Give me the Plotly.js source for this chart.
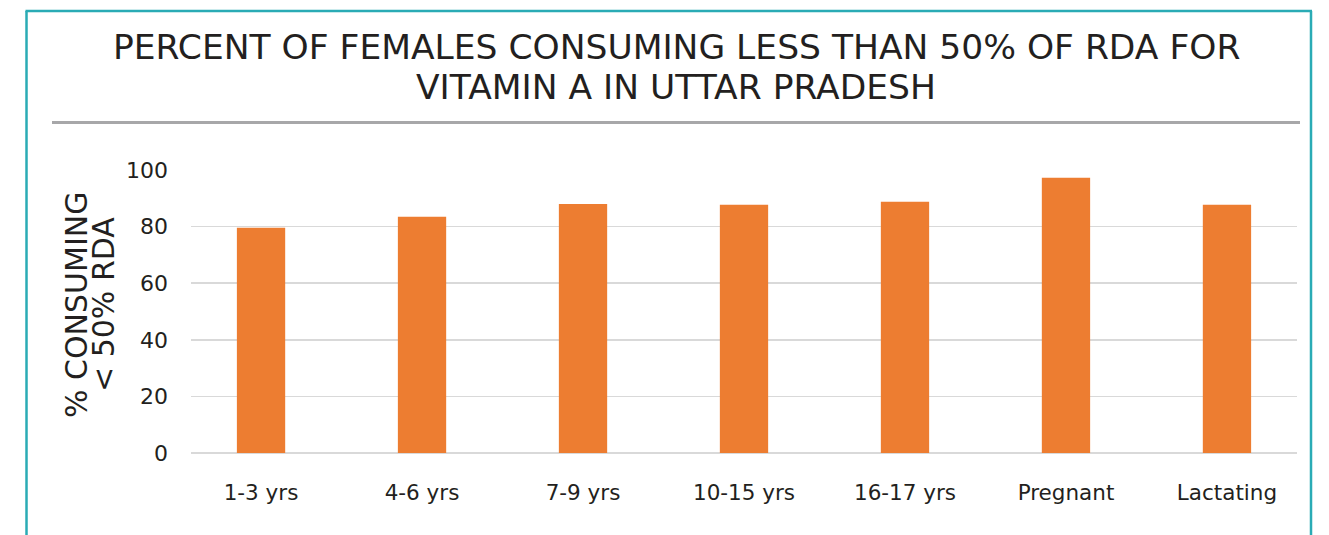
<!DOCTYPE html>
<html>
<head>
<meta charset="utf-8">
<script src="https://cdn.plot.ly/plotly-3.0.1.min.js"></script>
<style>html,body{margin:0;padding:0;background:#fff;}#chart{width:1329px;height:535px;}</style>
</head>
<body>
<div id="chart"></div>
<script>
const categories = ["1-3 yrs", "4-6 yrs", "7-9 yrs", "10-15 yrs", "16-17 yrs", "Pregnant", "Lactating"];
const percentBelow50RDA = [79.6, 83.5, 88.0, 87.7, 88.8, 97.3, 87.7];
const yTickValues = [0, 20, 40, 60, 80, 100];
const titleLines = ["PERCENT OF FEMALES CONSUMING LESS THAN 50% OF RDA FOR", "VITAMIN A IN UTTAR PRADESH"];
const yTitleLines = ["% CONSUMING", "&lt; 50% RDA"];

const W = 1329, H = 535;
const L = 191, R = 32, T = 170, B = 82;
const pw = W - L - R, ph = H - T - B;
const px = x => (x - L) / pw;
const py = y => (H - B - y) / ph;
const FONT = "DejaVu Sans";
const TXT = "#231f20";

const trace = {
  type: "bar",
  x: categories,
  y: percentBelow50RDA,
  width: 0.3,
  marker: {color: "#ED7D31"},
  hoverinfo: "x+y"
};

const layout = {
  width: W, height: H,
  margin: {l: L, r: R, t: T, b: B, pad: 0},
  paper_bgcolor: "#fff", plot_bgcolor: "#fff",
  showlegend: false,
  font: {family: FONT, color: TXT},
  xaxis: {
    type: "category",
    range: [-0.435, 6.435],
    showgrid: false, zeroline: false, showline: false,
    ticks: "", ticklen: 0, ticklabelstandoff: 24,
    tickfont: {family: FONT, size: 21.5, color: TXT},
    automargin: false
  },
  yaxis: {
    range: [0, 100],
    tickvals: yTickValues,
    showgrid: true, gridcolor: "#d9d9d9", gridwidth: 1.5,
    zeroline: true, zerolinecolor: "#d9d9d9", zerolinewidth: 2,
    showline: false, ticks: "", ticklabelstandoff: 22,
    tickfont: {family: FONT, size: 22, color: TXT},
    automargin: false
  },
  annotations: [
    {xref: "paper", yref: "paper", x: px(676), y: py(47), xanchor: "center", yanchor: "middle",
     text: titleLines[0], showarrow: false, font: {family: FONT, size: 34.5, color: TXT}},
    {xref: "paper", yref: "paper", x: px(676), y: py(87), xanchor: "center", yanchor: "middle",
     text: titleLines[1], showarrow: false, font: {family: FONT, size: 34.5, color: TXT}},
    {xref: "paper", yref: "paper", x: px(76), y: py(305), xanchor: "center", yanchor: "middle",
     text: yTitleLines[0], textangle: -90, showarrow: false, font: {family: FONT, size: 30, color: TXT}},
    {xref: "paper", yref: "paper", x: px(103), y: py(305), xanchor: "center", yanchor: "middle",
     text: yTitleLines[1], textangle: -90, showarrow: false, font: {family: FONT, size: 30, color: TXT}}
  ],
  shapes: [
    {type: "line", xref: "paper", yref: "paper", x0: px(52), x1: px(1300), y0: py(122.5), y1: py(122.5),
     line: {color: "#a7a7a9", width: 3}},
    {type: "line", xref: "paper", yref: "paper", x0: px(26.5), x1: px(26.5), y0: py(11), y1: py(540),
     line: {color: "#2aabb5", width: 2.5}},
    {type: "line", xref: "paper", yref: "paper", x0: px(1311), x1: px(1311), y0: py(11), y1: py(540),
     line: {color: "#2aabb5", width: 2.5}},
    {type: "line", xref: "paper", yref: "paper", x0: px(25.5), x1: px(1312), y0: py(11), y1: py(11),
     line: {color: "#2aabb5", width: 2.5}}
  ]
};

Plotly.newPlot("chart", [trace], layout, {displayModeBar: false, staticPlot: true});
</script>
</body>
</html>
